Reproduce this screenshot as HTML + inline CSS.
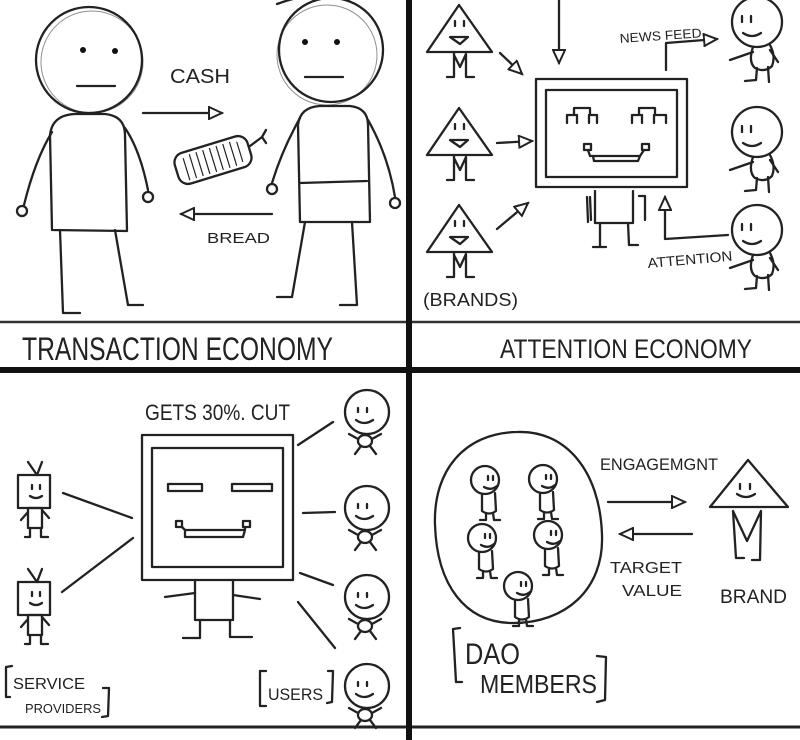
<!DOCTYPE html>
<html><head><meta charset="utf-8"><style>
html,body{margin:0;padding:0;background:#fff;}
svg{display:block;}
.s{fill:none;stroke:#222;stroke-width:2.3;stroke-linecap:round;stroke-linejoin:round;}
.t{font-family:"Liberation Sans",sans-serif;fill:#222;}
</style></head><body>
<svg width="800" height="740" viewBox="0 0 800 740" xmlns="http://www.w3.org/2000/svg">
<defs>
<marker id="ah" markerUnits="userSpaceOnUse" markerWidth="16" markerHeight="14" refX="13" refY="6" orient="auto" viewBox="-1 -1 16 14">
<path d="M0,0 L13,6 L0,12 Z" fill="#fff" stroke="#222" stroke-width="2"/>
</marker>
<g id="tri" class="s">
<path d="M0,0 L-32,47 L33,47 Z"/>
<path d="M-4,16 L-4,21 M5,16 L5,21"/>
<path d="M-9,32 L9,32 L1,39 Z"/>
<path d="M-5,48 L-5,72 L-12,72 M-5,50 L1,62 L7,49 L7,72 L15,72"/>
</g>
<g id="u2" class="s">
<circle r="25"/>
<path d="M-15,-6 L-15,0 M-6,-6 L-6,0"/>
<path d="M-14,11 Q-5,17 4,11"/>
<path d="M-4,25 Q-9,40 -2,46 Q8,51 15,44 Q19,34 13,23"/>
<path d="M-4,30 L-27,38 M13,28 L21,40"/>
<path d="M0,46 L-1,58 L-12,59 M11,45 L12,60"/>
</g>
<g id="u3" class="s">
<circle r="22"/>
<path d="M-9,-4 L-9,0 M0,-4 L0,0"/>
<path d="M-11,8 Q-3,14 6,8"/>
<ellipse cx="-2" cy="29" rx="7" ry="6"/>
<path d="M-9,27 L-18,22 M5,27 L14,22 M-6,34 L-12,42 M3,34 L9,42"/>
</g>
<g id="m4" class="s">
<circle r="14"/>
<path d="M3,-4 L3,0 M8,-4 L8,0"/>
<path d="M-1,7 Q6,11 12,6"/>
<path d="M-3,14 L-3,31 Q4,36 11,31 L10,13"/>
<path d="M1,33 L1,40 L-5,40 M8,33 L9,40 L15,40"/>
</g>
<g id="sp" class="s">
<rect x="0" y="0" width="32" height="33"/>
<path d="M10,-13 L19,0 L24,-13"/>
<path d="M14,10 L14,14 M22,10 L22,14"/>
<path d="M12,21 Q18,25 24,21"/>
<rect x="10" y="33" width="14" height="20"/>
<path d="M10,37 L3,45 M24,35 L31,43"/>
<path d="M12,53 L12,62 L7,62 M23,53 L23,62 L30,62"/>
</g>
</defs>

<!-- frame lines -->
<rect x="406" y="0" width="6" height="740" fill="#111"/>
<rect x="0" y="367" width="800" height="6" fill="#111"/>
<line x1="0" y1="322" x2="406" y2="322" stroke="#333" stroke-width="2.5"/>
<line x1="412" y1="322" x2="800" y2="322" stroke="#333" stroke-width="2.5"/>
<line x1="0" y1="727" x2="406" y2="727" stroke="#222" stroke-width="3"/>
<line x1="412" y1="727" x2="800" y2="727" stroke="#222" stroke-width="3"/>

<!-- PANEL 1 -->
<g class="s">
<circle cx="89" cy="60" r="53"/>
<circle cx="92" cy="62" r="51" stroke-width="1" opacity=".5"/>
<path d="M52,230 L50,135 Q52,115 75,114 L105,114 Q125,116 125,135 L127,231 Z"/>
<path d="M52,132 Q35,160 24,205"/><circle cx="22" cy="211" r="5"/>
<path d="M125,128 Q140,150 148,190"/><circle cx="148" cy="197" r="5"/>
<path d="M60,230 L63,313 L80,313 M115,230 L128,305 L143,305"/>
<path d="M77,86 L115,86"/>

<circle cx="331" cy="50" r="52"/>
<circle cx="327" cy="55" r="50" stroke-width="1" opacity=".5"/>
<path d="M277,4 Q288,0 297,-2"/>
<path d="M300,222 L298,125 Q300,107 320,106 L350,106 Q368,108 368,125 L370,222 Z"/>
<path d="M300,183 L367,181"/>
<path d="M300,118 Q282,150 272,183"/><circle cx="272" cy="189" r="5"/>
<path d="M368,120 Q388,155 395,197"/><circle cx="395" cy="203" r="5"/>
<path d="M305,222 L292,297 L277,297 M352,222 L357,305 L340,305"/>
<path d="M305,77 L343,77"/>

<path d="M143,113 L222,113" marker-end="url(#ah)"/>
<path d="M272,214 L181,214" marker-end="url(#ah)"/>

<g transform="translate(213,160) rotate(-17)">
<rect x="-38" y="-16" width="76" height="32" rx="10"/>
<path d="M-28,-10 L-28,12 M-21,-12 L-21,12 M-14,-12 L-14,12 M-7,-12 L-7,12 M0,-12 L0,12 M7,-12 L7,12 M14,-12 L14,12 M21,-12 L21,12 M28,-10 L28,10" stroke-width="1.2"/>
</g>
<path d="M250,146 L262,137 L266,130 M262,137 L266,143"/>
</g>
<circle cx="83" cy="50" r="3" fill="#111"/><circle cx="115" cy="51" r="3" fill="#111"/>
<circle cx="305" cy="42" r="3" fill="#111"/><circle cx="337" cy="42" r="3" fill="#111"/>
<text class="t" x="170" y="83" font-size="20" textLength="60" lengthAdjust="spacingAndGlyphs">CASH</text>
<text class="t" x="207" y="243" font-size="15" textLength="63" lengthAdjust="spacingAndGlyphs">BREAD</text>
<text class="t" x="22" y="360" font-size="32" textLength="311" lengthAdjust="spacingAndGlyphs">TRANSACTION ECONOMY</text>

<!-- PANEL 2 -->
<use href="#tri" x="459" y="5"/>
<use href="#tri" x="459" y="108"/>
<use href="#tri" x="459" y="205"/>
<g class="s">
<path d="M500,53 L522,74" marker-end="url(#ah)"/>
<path d="M497,143 L532,141" marker-end="url(#ah)"/>
<path d="M497,229 L528,203" marker-end="url(#ah)"/>
<path d="M559,0 L559,63" marker-end="url(#ah)"/>
<rect x="536" y="79" width="151" height="108"/>
<rect x="546" y="90" width="131" height="87"/>
<path d="M567,123 L567,115 L577,115 L577,123 M574,115 L574,108 L590,108 L590,115 M589,123 L589,115 L597,115 L597,123"/>
<path d="M632,123 L632,115 L642,115 L642,123 M639,115 L639,108 L655,108 L655,115 M654,123 L654,115 L666,115 L666,123"/>
<path d="M584,144 L591,144 L591,150 L584,150 Z M642,144 L649,144 L649,150 L642,150 Z"/>
<path d="M588,150 L590,156 L640,156 L644,150 M593,156 L594,161 L638,161 L640,156"/>
<path d="M595,191 L595,223 L633,223 L633,191"/>
<path d="M587,197 L588,222 M590,197 L591,220 M639,196 L645,196 L645,220"/>
<path d="M600,223 L600,247 M593,247 L606,247 M628,223 L629,245 L638,245"/>
<path d="M666,70 L666,43 L717,39" marker-end="url(#ah)"/>
<path d="M728,235 L665,239 L665,197" marker-end="url(#ah)"/>
</g>
<use href="#u2" x="757" y="22"/>
<use href="#u2" x="757" y="132"/>
<use href="#u2" x="757" y="230"/>
<text class="t" x="620" y="43" font-size="13" textLength="82" lengthAdjust="spacingAndGlyphs" transform="rotate(-4 620 43)">NEWS FEED</text>
<text class="t" x="648" y="268" font-size="14" textLength="85" lengthAdjust="spacingAndGlyphs" transform="rotate(-5 648 268)">ATTENTION</text>
<text class="t" x="423" y="306" font-size="18" textLength="95" lengthAdjust="spacingAndGlyphs">(BRANDS)</text>
<text class="t" x="500" y="358" font-size="27" textLength="252" lengthAdjust="spacingAndGlyphs">ATTENTION ECONOMY</text>

<!-- PANEL 3 -->
<g class="s">
<rect x="142" y="435" width="151" height="145"/>
<rect x="152" y="448" width="131" height="119"/>
<rect x="168" y="484" width="34" height="7"/>
<rect x="232" y="484" width="40" height="7"/>
<path d="M176,521 L182,521 L182,527 L176,527 Z M243,521 L250,521 L250,527 L243,527 Z"/>
<path d="M182,527 L185,530 L245,530 L245,527 M185,530 L185,537 L243,537 L245,530"/>
<path d="M195,580 L195,620 L233,620 L233,580"/>
<path d="M165,597 L195,593 M233,595 L260,599"/>
<path d="M200,620 L200,638 L183,638 M230,620 L230,637 L252,637"/>
<path d="M298,445 L333,422 M303,513 L335,512 M300,573 L333,585 M298,602 L335,648"/>
<path d="M63,493 L132,518 M62,592 L133,538"/>
<path d="M12,666 L6,667 L6,697 L10,697 M103,688 L109,688 L108,716 L102,717"/>
<path d="M266,671 L260,671 L260,706 L266,706 M328,671 L333,671 L332,702 L327,703"/>
</g>
<use href="#sp" x="18" y="475"/>
<use href="#sp" x="18" y="582"/>
<use href="#u3" x="367" y="412"/>
<use href="#u3" x="367" y="508"/>
<use href="#u3" x="367" y="597"/>
<use href="#u3" x="367" y="686"/>
<text class="t" x="145" y="420" font-size="22" textLength="145" lengthAdjust="spacingAndGlyphs">GETS 30%. CUT</text>
<text class="t" x="13" y="689" font-size="16" textLength="72" lengthAdjust="spacingAndGlyphs">SERVICE</text>
<text class="t" x="25" y="713" font-size="13" textLength="76" lengthAdjust="spacingAndGlyphs">PROVIDERS</text>
<text class="t" x="268" y="700" font-size="17" textLength="55" lengthAdjust="spacingAndGlyphs">USERS</text>

<!-- PANEL 4 -->
<g class="s">
<path d="M517,432 C565,430 600,470 602,535 C604,590 565,623 513,623 C465,623 437,585 435,525 C433,470 465,433 517,432 Z"/>
<path d="M608,502 L685,502" marker-end="url(#ah)"/>
<path d="M692,534 L620,534" marker-end="url(#ah)"/>
<path d="M748,460 L710,507 L788,507 Z"/>
<path d="M740,484 L740,489 M750,484 L750,489"/>
<path d="M737,494 Q746,500 755,494"/>
<path d="M733,511 L736,558 L744,558 M733,511 L747,541 L761,511 L760,560 L752,560"/>
<path d="M460,628 L453,629 L456,682 L462,682 M597,656 L606,657 L605,700 L597,702"/>
</g>
<use href="#m4" x="485" y="480"/>
<use href="#m4" x="543" y="479"/>
<use href="#m4" x="482" y="538"/>
<use href="#m4" x="548" y="535"/>
<use href="#m4" x="518" y="586"/>
<text class="t" x="600" y="470" font-size="17" textLength="118" lengthAdjust="spacingAndGlyphs">ENGAGEMGNT</text>
<text class="t" x="610" y="573" font-size="16" textLength="72" lengthAdjust="spacingAndGlyphs">TARGET</text>
<text class="t" x="622" y="596" font-size="16" textLength="60" lengthAdjust="spacingAndGlyphs">VALUE</text>
<text class="t" x="720" y="603" font-size="19" textLength="67" lengthAdjust="spacingAndGlyphs">BRAND</text>
<text class="t" x="465" y="664" font-size="30" textLength="55" lengthAdjust="spacingAndGlyphs">DAO</text>
<text class="t" x="480" y="693" font-size="26" textLength="117" lengthAdjust="spacingAndGlyphs">MEMBERS</text>
</svg>
</body></html>
